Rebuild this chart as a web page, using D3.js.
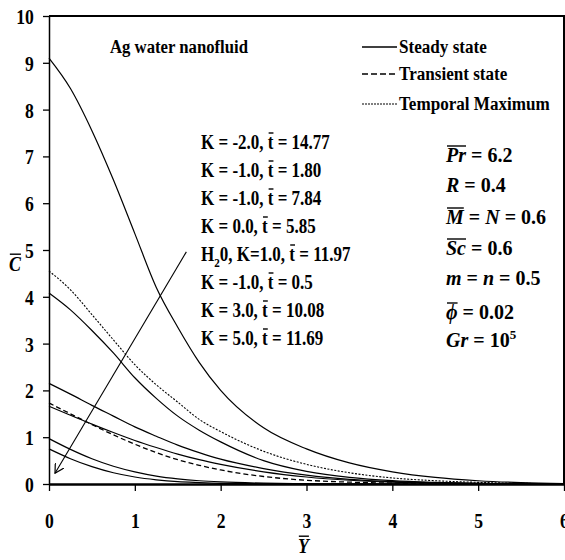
<!DOCTYPE html>
<html>
<head>
<meta charset="utf-8">
<script src="https://cdn.jsdelivr.net/npm/d3@7"></script>
<style>
  body { margin: 0; background: #fff; }
  svg { display: block; }
  text { font-family: "Liberation Serif", serif; font-weight: bold; }
</style>
</head>
<body>
<svg id="chart" width="565" height="560"></svg>
<script>

// Sample points along Y (shared by every curve)
const yBar = [0, 0.25, 0.5, 0.75, 1, 1.25, 1.5, 1.75, 2, 2.5, 3, 3.5, 4, 4.5, 5, 5.5, 6];

// Steady state curves (solid)
const steady1 = [9.1, 8.45, 7.55, 6.5, 5.35, 4.2, 3.35, 2.6, 2.0, 1.2, 0.75, 0.45, 0.26, 0.14, 0.07, 0.03, 0.01];
const steady2 = [4.08, 3.72, 3.28, 2.8, 2.27, 1.83, 1.45, 1.15, 0.9, 0.5, 0.27, 0.14, 0.07, 0.035, 0.015, 0.006, 0];
const steady3 = [2.15, 1.92, 1.68, 1.45, 1.22, 1.02, 0.83, 0.67, 0.53, 0.33, 0.19, 0.1, 0.05, 0.025, 0.012, 0.005, 0];
const steady4 = [1.66, 1.47, 1.28, 1.1, 0.93, 0.78, 0.64, 0.52, 0.42, 0.26, 0.15, 0.08, 0.04, 0.02, 0.01, 0.004, 0];
const steady5 = [0.97, 0.74, 0.54, 0.38, 0.26, 0.17, 0.11, 0.07, 0.045, 0.018, 0.007, 0.003, 0.001, 0, 0, 0, 0];
const steady6 = [0.75, 0.54, 0.37, 0.24, 0.15, 0.09, 0.05, 0.03, 0.015, 0.005, 0.002, 0, 0, 0, 0, 0, 0];

// Transient state (dashed) and temporal maximum (dotted)
const transient = [1.73, 1.5, 1.27, 1.05, 0.85, 0.67, 0.52, 0.4, 0.3, 0.16, 0.08, 0.04, 0.02, 0.008, 0.003, 0.001, 0];
const temporalMax = [4.55, 4.15, 3.62, 3.08, 2.55, 2.12, 1.75, 1.38, 1.12, 0.7, 0.42, 0.24, 0.13, 0.07, 0.035, 0.015, 0.005];

// Arrow through the curves, in data units [Y, C]
const arrowFrom = [1.6, 4.96];
const arrowTo = [0.07, 0.23];

// Ticks
const xTicks = [0, 1, 2, 3, 4, 5, 6];
const yTicks = [0, 1, 2, 3, 4, 5, 6, 7, 8, 9, 10];

// Texts
const titleText = "Ag water nanofluid";
const legendLabels = ["Steady state", "Transient state", "Temporal Maximum"];
const caseLabels = [
    [{t: "K = -2.0, "}, {t: "t", over: true}, {t: " = 14.77"}],
    [{t: "K = -1.0, "}, {t: "t", over: true}, {t: " = 1.80"}],
    [{t: "K = -1.0, "}, {t: "t", over: true}, {t: " = 7.84"}],
    [{t: "K = 0.0, "}, {t: "t", over: true}, {t: " = 5.85"}],
    [{t: "H"}, {t: "2", sub: true}, {t: "0, K=1.0, "}, {t: "t", over: true}, {t: " = 11.97"}],
    [{t: "K = -1.0, "}, {t: "t", over: true}, {t: " = 0.5"}],
    [{t: "K = 3.0, "}, {t: "t", over: true}, {t: " = 10.08"}],
    [{t: "K = 5.0, "}, {t: "t", over: true}, {t: " = 11.69"}]
];
const paramLabels = [
    [{t: "Pr", it: true, over: true}, {t: " = 6.2"}],
    [{t: "R", it: true}, {t: " = 0.4"}],
    [{t: "M", it: true, over: true}, {t: " = "}, {t: "N", it: true}, {t: " = 0.6"}],
    [{t: "Sc", it: true, over: true}, {t: " = 0.6"}],
    [{t: "m", it: true}, {t: " = "}, {t: "n", it: true}, {t: " = 0.5"}],
    [{t: "\u03d5", it: true, over: true}, {t: " = 0.02"}],
    [{t: "Gr", it: true}, {t: " = 10"}, {t: "5", sup: true}]
];

const svg = d3.select("#chart");
const margin = {top: 16, right: 1, bottom: 76, left: 49};
const width = 565 - margin.left - margin.right,
      height = 560 - margin.top - margin.bottom;

const x = d3.scaleLinear().domain([0, 6]).range([margin.left, margin.left + width]);
const y = d3.scaleLinear().domain([0, 10]).range([margin.top + height, margin.top]);

/** Text made of segments, squeezed horizontally, with overlines drawn as lines */
function richText(parent, px, py, segs, size, sx) {
    const g = parent.append("g")
        .attr("transform", `translate(${px},${py}) scale(${sx},1)`);
    const text = g.append("text")
        .style("font-size", size + "px")
        .attr("fill", "#000");

    let idx = 0, shift = 0;
    const overs = [];
    segs.forEach(s => {
        let off = 0;
        if (s.sub) off = size * 0.3;
        if (s.sup) off = -size * 0.4;
        const ts = text.append("tspan").text(s.t).attr("dy", off - shift);
        shift = off;
        if (s.sub || s.sup) ts.style("font-size", (size * 0.65) + "px");
        if (s.it) ts.style("font-style", "italic");
        if (s.over) overs.push([idx, idx + s.t.length]);
        idx += s.t.length;
    });

    // Overlines
    const node = text.node();
    overs.forEach(([a, b]) => {
        let x0 = Infinity, x1 = -Infinity;
        for (let i = a; i < b; i++) {
            const e = node.getExtentOfChar(i);
            x0 = Math.min(x0, e.x);
            x1 = Math.max(x1, e.x + e.width);
        }
        g.append("line")
            .attr("x1", x0 + 1).attr("x2", x1)
            .attr("y1", -size * 0.8).attr("y2", -size * 0.8)
            .attr("stroke", "#000")
            .attr("stroke-width", 1.4);
    });
    return g;
}

// Axes
const xAxis = svg.append("g")
    .attr("transform", `translate(0,${margin.top + height})`)
    .call(d3.axisBottom(x).tickValues(xTicks).tickFormat(d3.format("d"))
        .tickSize(7).tickSizeOuter(0));
xAxis.select(".domain").attr("stroke-width", 2.5);
xAxis.selectAll(".tick line").attr("stroke-width", 1.3);
xAxis.selectAll("text")
    .attr("y", 44).attr("dy", 0)
    .attr("text-anchor", "middle")
    .style("font-size", "22px")
    .attr("transform", "scale(0.8,1)");

const yAxis = svg.append("g")
    .attr("transform", `translate(${margin.left},0)`)
    .call(d3.axisLeft(y).tickValues(yTicks).tickFormat(d3.format("d"))
        .tickSize(6).tickSizeOuter(0));
yAxis.select(".domain").attr("stroke-width", 1.5);
yAxis.selectAll(".tick line").attr("stroke-width", 1.3);
yAxis.selectAll("text")
    .attr("x", -19).attr("dy", "0.34em")
    .attr("text-anchor", "end")
    .style("font-size", "22px")
    .attr("transform", "scale(0.8,1)");

// Frame on top and right
svg.append("path")
    .attr("d", `M${x(0)},${y(10)}H${x(6)}V${y(0)}`)
    .attr("fill", "none")
    .attr("stroke", "#000")
    .attr("stroke-width", 2);

// Axis titles
richText(svg, 9, 271, [{t: "C", it: true, over: true}], 21, 0.85);
richText(svg, 298, 553, [{t: "Y", it: true, over: true}], 21, 0.85);

// Curves
const line = d3.line()
    .x((d, i) => x(yBar[i]))
    .y(d => y(d))
    .curve(d3.curveMonotoneX);

const curves = svg.append("g").attr("fill", "none").attr("stroke", "#000");
[steady1, steady2, steady3, steady4, steady5, steady6].forEach(c => {
    curves.append("path").attr("d", line(c)).attr("stroke-width", 1.2);
});
curves.append("path").attr("d", line(transient))
    .attr("stroke-width", 1.3).attr("stroke-dasharray", "5,3");
curves.append("path").attr("d", line(temporalMax))
    .attr("stroke-width", 1.1).attr("stroke-dasharray", "2,1.5");

// Arrow
svg.append("defs").append("marker")
    .attr("id", "arrowhead")
    .attr("viewBox", "0 0 10 10")
    .attr("refX", 9).attr("refY", 5)
    .attr("markerWidth", 10).attr("markerHeight", 10)
    .attr("markerUnits", "userSpaceOnUse")
    .attr("orient", "auto")
    .append("path")
    .attr("d", "M0,0L9,5L0,10")
    .attr("fill", "none")
    .attr("stroke", "#000")
    .attr("stroke-width", 1.2);
svg.append("line")
    .attr("x1", x(arrowFrom[0])).attr("y1", y(arrowFrom[1]))
    .attr("x2", x(arrowTo[0])).attr("y2", y(arrowTo[1]))
    .attr("stroke", "#000")
    .attr("stroke-width", 1.1)
    .attr("marker-end", "url(#arrowhead)");

// Title
richText(svg, 110, 53, [{t: titleText}], 19, 0.88);

// Legend
const legendY = [47, 74, 104];
const legendDash = [null, "6,3", "2,1"];
legendLabels.forEach((lab, i) => {
    svg.append("line")
        .attr("x1", 362).attr("x2", 397)
        .attr("y1", legendY[i]).attr("y2", legendY[i])
        .attr("stroke", "#000")
        .attr("stroke-width", i === 2 ? 1.1 : 1.5)
        .attr("stroke-dasharray", legendDash[i]);
    richText(svg, 399, legendY[i] + 6, [{t: lab}], 19, 0.9);
});

// Case labels
caseLabels.forEach((segs, i) => {
    richText(svg, 201, 149 + 28 * i, segs, 20, 0.85);
});

// Parameters
const paramY = [155, 185, 217, 248, 278, 312, 340];
paramLabels.forEach((segs, i) => {
    richText(svg, 446, paramY[i] + 7, segs, 20, 1.0);
});

</script>
</body>
</html>
